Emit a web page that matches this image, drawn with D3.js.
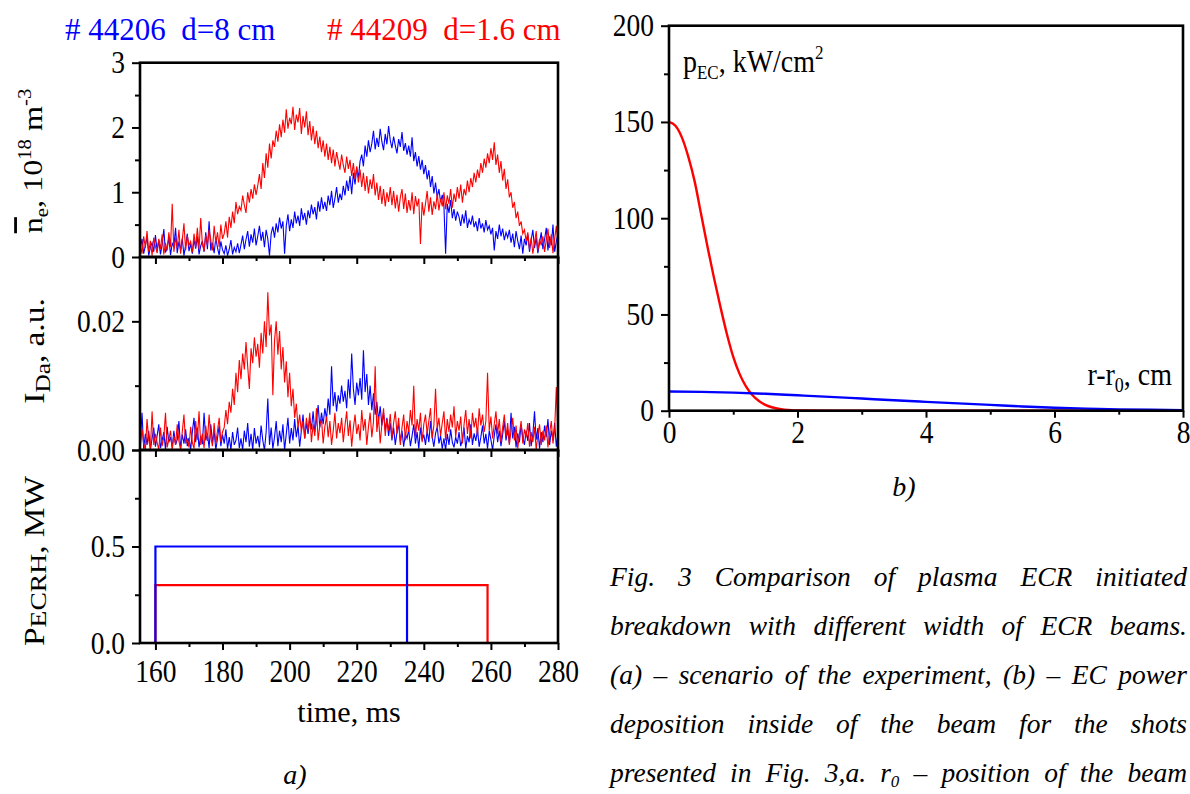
<!DOCTYPE html>
<html>
<head>
<meta charset="utf-8">
<title>Fig. 3</title>
<script src="https://cdnjs.cloudflare.com/ajax/libs/d3/7.8.5/d3.min.js"></script>
<style>
	body { margin: 0; background: #fff; }
</style>
</head>
<body>
<svg id="chart" width="1190" height="794" style="font-family: 'Liberation Serif', 'Times New Roman', Times, serif;"></svg>
<script>
// sampled traces: first sample and step, ms
var tStart = 155.5,
	tStep = 0.5;

// line-averaged density, 10^18 m^-3 (shot 44206 blue, 44209 red)
var neBlue = [
	0.12, 0.28, 0.05, 0.18, 0.31, 0.02, 0.15, 0.22, 0.08, 0.34,
	0.10, 0.26, 0.04, 0.19, 0.43, 0.07, 0.14, 0.30, 0.03, 0.21,
	0.16, 0.45, 0.06, 0.24, 0.11, 0.29, 0.02, 0.18, 0.36, 0.09,
	0.20, 0.05, 0.27, 0.13, 0.32, 0.04, 0.17, 0.25, 0.08, 0.38,
	0.12, 0.55, 0.10, 0.22, 0.06, 0.30, 0.14, 0.03, 0.24, 0.11,
	0.05, 0.18, 0.02, 0.12, 0.26, 0.04, 0.15, 0.08, 0.21, 0.06,
	0.19, 0.33, 0.12, 0.27, 0.40, 0.16, 0.35, 0.22, 0.44, 0.18,
	0.32, 0.48, 0.25, 0.39, 0.15, 0.42, 0.28, 0.02, 0.36, 0.47,
	0.30, 0.52, 0.38, 0.61, 0.44, 0.55, 0.05, 0.48, 0.66, 0.40,
	0.58, 0.45, 0.70, 0.52, 0.64, 0.48, 0.75, 0.57, 0.68, 0.50,
	0.72, 0.60, 0.81, 0.66, 0.77, 0.58, 0.86, 0.70, 0.92, 0.74,
	0.85, 0.71, 0.95, 0.80, 1.02, 0.76, 0.90, 1.08, 0.84, 0.98,
	0.88, 1.10, 0.95, 1.18, 1.02, 1.25, 0.97, 1.30, 1.12, 1.38,
	1.22, 1.48, 1.58, 1.40, 1.72, 1.55, 1.80, 1.62, 1.75, 1.95,
	1.66, 1.84, 1.70, 1.98, 1.78, 1.65, 1.90, 1.74, 2.02, 1.80,
	1.68, 1.86, 1.72, 1.60, 1.82, 1.70, 1.93, 1.64, 1.76, 1.58,
	1.72, 1.55, 1.85, 1.48, 1.62, 1.40, 1.56, 1.35, 1.50, 1.28,
	1.42, 1.20, 1.34, 1.08, 1.25, 0.98, 1.15, 0.92, 1.05, 0.85,
	0.96, 0.78, 0.05, 0.82, 0.68, 0.88, 0.60, 0.74, 0.56, 0.70,
	0.62, 0.48, 0.66, 0.52, 0.72, 0.45, 0.58, 0.50, 0.64, 0.46,
	0.55, 0.40, 0.60, 0.44, 0.52, 0.38, 0.57, 0.42, 0.48, 0.35,
	0.45, 0.10, 0.40, 0.28, 0.50, 0.32, 0.44, 0.26, 0.38, 0.30,
	0.42, 0.22, 0.36, 0.15, 0.40, 0.25, 0.12, 0.33, 0.05, 0.28,
	0.18, 0.35, 0.08, 0.26, 0.42, 0.14, 0.30, 0.06, 0.22, 0.38,
	0.12, 0.27, 0.45, 0.10, 0.32, 0.18, 0.50, 0.08, 0.24, 0.36
];
var neRed = [
	0.20, 0.05, 0.32, 0.14, 0.40, 0.08, 0.25, 0.02, 0.30, 0.16,
	0.06, 0.28, 0.12, 0.35, 0.04, 0.22, 0.10, 0.38, 0.15, 0.82,
	0.08, 0.30, 0.14, 0.42, 0.05, 0.26, 0.52, 0.10, 0.33, 0.18,
	0.24, 0.07, 0.36, 0.15, 0.45, 0.12, 0.60, 0.20, 0.09, 0.34,
	0.18, 0.42, 0.26, 0.10, 0.48, 0.22, 0.38, 0.15, 0.50, 0.28,
	0.36, 0.55, 0.30, 0.62, 0.45, 0.70, 0.52, 0.85, 0.66, 0.78,
	0.72, 0.95, 0.80, 0.68, 1.00, 0.84, 1.05, 0.90, 1.12, 0.96,
	1.10, 1.28, 1.05, 1.45, 1.22, 1.60, 1.38, 1.75, 1.52, 1.80,
	1.70, 1.95, 1.78, 2.05, 1.85, 2.12, 1.92, 2.28, 1.98, 2.15,
	2.05, 2.32, 1.96, 2.20, 2.08, 2.30, 1.90, 2.18, 2.00, 2.25,
	1.88, 2.10, 1.80, 2.02, 1.74, 1.95, 1.68, 1.86, 1.62, 1.80,
	1.55, 1.75, 1.50, 1.70, 1.45, 1.66, 1.40, 1.62, 1.48, 1.35,
	1.58, 1.42, 1.30, 1.55, 1.36, 1.50, 1.25, 1.45, 1.20, 1.40,
	1.15, 1.35, 1.08, 1.30, 1.02, 1.25, 0.98, 1.20, 1.05, 1.28,
	0.95, 1.15, 0.88, 1.10, 0.82, 1.05, 0.78, 1.00, 0.85, 1.08,
	0.80, 1.02, 0.75, 0.96, 0.70, 0.92, 1.05, 0.74, 0.98, 0.68,
	0.88, 0.72, 1.00, 0.66, 0.94, 0.78, 0.90, 0.20, 0.85, 0.64,
	0.82, 1.02, 0.70, 0.92, 0.65, 0.86, 0.74, 0.98, 0.72, 0.90,
	0.78, 1.00, 0.74, 0.95, 0.82, 1.05, 0.76, 0.98, 0.85, 1.08,
	0.90, 1.12, 0.84, 1.05, 0.95, 1.18, 1.00, 1.22, 1.08, 1.30,
	1.15, 1.35, 1.22, 1.45, 1.30, 1.52, 1.38, 1.60, 1.45, 1.68,
	1.50, 1.77, 1.42, 1.58, 1.30, 1.48, 1.18, 1.36, 1.05, 1.20,
	0.92, 1.00, 0.76, 0.85, 0.60, 0.70, 0.48, 0.55, 0.36, 0.42,
	0.25, 0.38, 0.12, 0.30, 0.05, 0.22, 0.40, 0.10, 0.28, 0.18,
	0.32, 0.08, 0.26, 0.44, 0.14, 0.35, 0.06, 0.28, 0.48, 0.20
];

// D-alpha intensity, a.u.
var daBlue = [
	0.0010, 0.0058, 0.0002, 0.0025, 0.0008, 0.0030, 0.0000, 0.0018, 0.0035, 0.0005,
	0.0022, 0.0040, 0.0003, 0.0015, 0.0028, 0.0000, 0.0036, 0.0012, 0.0020, 0.0004,
	0.0030, 0.0008, 0.0016, 0.0045, 0.0002, 0.0024, 0.0010, 0.0032, 0.0006, 0.0019,
	0.0000, 0.0028, 0.0050, 0.0012, 0.0035, 0.0004, 0.0022, 0.0009, 0.0058, 0.0015,
	0.0026, 0.0003, 0.0040, 0.0011, 0.0030, 0.0000, 0.0018, 0.0038, 0.0006, 0.0024,
	0.0010, 0.0032, 0.0002, 0.0020, 0.0000, 0.0028, 0.0008, 0.0015, 0.0035, 0.0003,
	0.0018, 0.0000, 0.0030, 0.0012, 0.0042, 0.0005, 0.0025, 0.0000, 0.0034, 0.0010,
	0.0022, 0.0004, 0.0038, 0.0015, 0.0000, 0.0028, 0.0080, 0.0008, 0.0035, 0.0002,
	0.0020, 0.0045, 0.0006, 0.0030, 0.0012, 0.0040, 0.0000, 0.0025, 0.0050, 0.0010,
	0.0034, 0.0015, 0.0048, 0.0020, 0.0038, 0.0005, 0.0030, 0.0055, 0.0018, 0.0042,
	0.0025, 0.0050, 0.0032, 0.0060, 0.0028, 0.0045, 0.0070, 0.0035, 0.0058, 0.0040,
	0.0065, 0.0048, 0.0080, 0.0055, 0.0130, 0.0068, 0.0090, 0.0060, 0.0085, 0.0072,
	0.0100, 0.0075, 0.0092, 0.0065, 0.0110, 0.0080, 0.0150, 0.0095, 0.0070, 0.0105,
	0.0085, 0.0112, 0.0078, 0.0155, 0.0090, 0.0118, 0.0070, 0.0100, 0.0062, 0.0088,
	0.0055, 0.0075, 0.0045, 0.0068, 0.0038, 0.0058, 0.0030, 0.0050, 0.0022, 0.0042,
	0.0015, 0.0035, 0.0008, 0.0028, 0.0040, 0.0012, 0.0030, 0.0005, 0.0025, 0.0018,
	0.0032, 0.0006, 0.0022, 0.0040, 0.0010, 0.0028, 0.0002, 0.0035, 0.0015, 0.0024,
	0.0008, 0.0030, 0.0012, 0.0045, 0.0020, 0.0005, 0.0026, 0.0036, 0.0010, 0.0022,
	0.0002, 0.0018, 0.0000, 0.0025, 0.0008, 0.0032, 0.0012, 0.0004, 0.0020, 0.0010,
	0.0028, 0.0006, 0.0016, 0.0035, 0.0002, 0.0022, 0.0012, 0.0040, 0.0008, 0.0026,
	0.0014, 0.0032, 0.0005, 0.0020, 0.0038, 0.0010, 0.0025, 0.0002, 0.0030, 0.0016,
	0.0000, 0.0022, 0.0040, 0.0012, 0.0030, 0.0006, 0.0024, 0.0045, 0.0015, 0.0032,
	0.0010, 0.0058, 0.0018, 0.0036, 0.0004, 0.0026, 0.0012, 0.0040, 0.0020, 0.0008,
	0.0030, 0.0014, 0.0042, 0.0006, 0.0024, 0.0060, 0.0016, 0.0034, 0.0002, 0.0028,
	0.0012, 0.0038, 0.0020, 0.0048, 0.0008, 0.0030, 0.0015, 0.0042, 0.0005, 0.0025
];
var daRed = [
	0.0005, 0.0032, 0.0010, 0.0000, 0.0048, 0.0015, 0.0002, 0.0060, 0.0008, 0.0025,
	0.0012, 0.0000, 0.0035, 0.0006, 0.0020, 0.0058, 0.0004, 0.0016, 0.0030, 0.0001,
	0.0022, 0.0008, 0.0040, 0.0014, 0.0000, 0.0028, 0.0055, 0.0010, 0.0018, 0.0004,
	0.0036, 0.0012, 0.0002, 0.0045, 0.0016, 0.0060, 0.0008, 0.0025, 0.0003, 0.0038,
	0.0014, 0.0055, 0.0020, 0.0006, 0.0042, 0.0010, 0.0030, 0.0050, 0.0012, 0.0028,
	0.0035, 0.0062, 0.0040, 0.0075, 0.0058, 0.0095, 0.0070, 0.0120, 0.0090, 0.0140,
	0.0110, 0.0150, 0.0125, 0.0168, 0.0130, 0.0095, 0.0158, 0.0135, 0.0175, 0.0145,
	0.0165, 0.0128, 0.0182, 0.0150, 0.0200, 0.0160, 0.0245, 0.0178, 0.0195, 0.0085,
	0.0170, 0.0200, 0.0148, 0.0185, 0.0125, 0.0160, 0.0105, 0.0138, 0.0082, 0.0120,
	0.0068, 0.0095, 0.0050, 0.0072, 0.0035, 0.0055, 0.0028, 0.0045, 0.0018, 0.0050,
	0.0030, 0.0058, 0.0012, 0.0040, 0.0022, 0.0065, 0.0015, 0.0038, 0.0048, 0.0010,
	0.0036, 0.0052, 0.0020, 0.0045, 0.0008, 0.0030, 0.0058, 0.0018, 0.0042, 0.0026,
	0.0050, 0.0012, 0.0038, 0.0060, 0.0022, 0.0046, 0.0005, 0.0034, 0.0055, 0.0025,
	0.0040, 0.0015, 0.0062, 0.0030, 0.0048, 0.0008, 0.0036, 0.0058, 0.0020, 0.0044,
	0.0130, 0.0028, 0.0052, 0.0010, 0.0040, 0.0065, 0.0022, 0.0048, 0.0030, 0.0056,
	0.0018, 0.0042, 0.0060, 0.0025, 0.0050, 0.0008, 0.0035, 0.0055, 0.0015, 0.0045,
	0.0028, 0.0062, 0.0038, 0.0100, 0.0020, 0.0048, 0.0030, 0.0058, 0.0012, 0.0040,
	0.0055, 0.0025, 0.0045, 0.0065, 0.0018, 0.0038, 0.0095, 0.0032, 0.0050, 0.0022,
	0.0042, 0.0060, 0.0015, 0.0048, 0.0028, 0.0055, 0.0035, 0.0068, 0.0020, 0.0045,
	0.0030, 0.0052, 0.0010, 0.0040, 0.0062, 0.0025, 0.0048, 0.0018, 0.0058, 0.0035,
	0.0050, 0.0022, 0.0065, 0.0038, 0.0055, 0.0028, 0.0045, 0.0120, 0.0030, 0.0052,
	0.0018, 0.0040, 0.0060, 0.0025, 0.0048, 0.0012, 0.0035, 0.0055, 0.0020, 0.0042,
	0.0008, 0.0030, 0.0050, 0.0015, 0.0038, 0.0002, 0.0025, 0.0045, 0.0010, 0.0032,
	0.0020, 0.0042, 0.0005, 0.0028, 0.0012, 0.0036, 0.0000, 0.0024, 0.0040, 0.0008,
	0.0030, 0.0015, 0.0038, 0.0004, 0.0026, 0.0045, 0.0010, 0.0032, 0.0098, 0.0018
];

// ECRH pulses: times (ms) and power (MW)
var pulseTimeBlue = [160, 160, 235, 235],
	pulsePowBlue = [0, 0.5, 0.5, 0];
var pulseTimeRed = [160, 160, 259, 259],
	pulsePowRed = [0, 0.3, 0.3, 0];

// EC power deposition across the beam, r - r0 in cm, kW/cm^2
var rRed = [0, 0.1, 0.2, 0.3, 0.4, 0.5, 0.6, 0.7, 0.8, 0.9, 1.0, 1.1, 1.2, 1.3, 1.4, 1.5, 1.6, 1.7, 1.8, 1.9, 2.0, 3, 4, 5, 6, 7, 8],
	pecRed = [150, 148, 142, 132, 119, 102, 85, 69, 54, 40, 28, 19, 12.5, 8, 5, 3, 1.8, 1, 0.5, 0.2, 0.1, 0, 0, 0, 0, 0, 0];
var rBlue = [0, 0.5, 1, 1.5, 2, 2.5, 3, 3.5, 4, 4.5, 5, 5.5, 6, 6.5, 7, 7.5, 8],
	pecBlue = [10, 9.8, 9.4, 8.8, 8, 7.2, 6.3, 5.4, 4.6, 3.8, 3, 2.2, 1.5, 1.1, 0.7, 0.5, 0.3];

// tick values
var timeMajor = [160, 180, 200, 220, 240, 260, 280],
	timeMinor = [170, 190, 210, 230, 250, 270],
	neMajor = [0, 1, 2, 3], neMinor = [0.5, 1.5, 2.5],
	daMajor = [0, 0.02], daMinor = [0.01],
	pwMajor = [0, 0.5, 1], pwMinor = [0.25, 0.75],
	rMajor = [0, 2, 4, 6, 8], rMinor = [1, 3, 5, 7],
	pecMajor = [0, 50, 100, 150, 200], pecMinor = [25, 75, 125, 175];

// caption text, "_" marks a subscript
var captionLines = [
	"Fig. 3 Comparison of plasma ECR initiated",
	"breakdown with different width of ECR beams.",
	"(a) \u2013 scenario of the experiment, (b) \u2013 EC power",
	"deposition inside of the beam for the shots",
	"presented in Fig. 3,a. r_0 \u2013 position of the beam"
];

var blue = "#0000ff", red = "#ff0000";
var serif = "'Liberation Serif', 'Times New Roman', Times, serif";
var tickFont = 27.5,
	stretch = 1.15;	// the printed figure is a bit taller than its fonts

var svg = d3.select("#chart");
var times = d3.range(neBlue.length).map(function(i) { return tStart + i * tStep; });

// left column: three stacked panels on one time axis
var x = d3.scaleLinear().domain([155.4, 280]).range([140, 558]);
var yNe = d3.scaleLinear().domain([0, 3]).range([257, 62.7]),
	yDa = d3.scaleLinear().domain([0, 0.03]).range([450, 257]),
	yPw = d3.scaleLinear().domain([0, 1]).range([643, 450]);

// right panel
var xr = d3.scaleLinear().domain([0, 8]).range([669, 1183]),
	yr = d3.scaleLinear().domain([0, 200]).range([410.7, 25.7]);

var styleTicks = function(g) {
	g.attr("font-family", null).style("font-family", serif);
	g.select(".domain").remove();
	g.selectAll(".tick line").attr("stroke", "#000").attr("stroke-width", 2);
	g.selectAll(".tick text").attr("font-size", tickFont).style("font-family", serif).style("fill", "#000");
	return g;
};

var leftAxis = function(scale, major, minor, fmt, xPos, showLabel) {
	var g = svg.append("g").attr("transform", "translate(" + xPos + ",0)");
	styleTicks(g.append("g").call(d3.axisLeft(scale).tickValues(minor).tickSize(5).tickFormat("")));
	var gm = styleTicks(g.append("g").call(d3.axisLeft(scale).tickValues(major).tickSize(8).tickPadding(7).tickFormat(function(d) {
		return showLabel(d) ? fmt(d) : "";
	})));
	gm.selectAll(".tick text")
		.attr("dy", null)
		.attr("transform", "translate(0,10) scale(1," + stretch + ")");
};

var bottomAxis = function(scale, major, minor, fmt, yPos, labelOffset) {
	var g = svg.append("g").attr("transform", "translate(0," + yPos + ")");
	styleTicks(g.append("g").call(d3.axisBottom(scale).tickValues(minor).tickSize(4).tickFormat("")));
	var gm = styleTicks(g.append("g").call(d3.axisBottom(scale).tickValues(major).tickSize(7).tickFormat(fmt)));
	gm.selectAll(".tick text")
		.attr("y", 0).attr("dy", null)
		.attr("transform", "translate(0," + labelOffset + ") scale(1," + stretch + ")");
};

var noLabel = function() { return ""; };
var always = function() { return true; };

// --- left column -----------------------------------------------------------
var panels = [yNe, yDa, yPw];
panels.forEach(function(y, i) {
	bottomAxis(x, timeMajor, timeMinor, i == 2 ? d3.format("d") : noLabel, y.range()[0], 38.7);
});
leftAxis(yNe, neMajor, neMinor, d3.format("d"), 140, always);
leftAxis(yDa, daMajor, daMinor, d3.format(".2f"), 140, always);
leftAxis(yPw, pwMajor, pwMinor, d3.format(".1f"), 140, function(d) { return d < 1; });

var traceLine = function(y) {
	return d3.line()
		.x(function(d) { return x(d[0]); })
		.y(function(d) { return y(d[1]); });
};
var zipped = function(xs, ys) { return d3.zip(xs, ys); };

var traces = svg.append("g");
traces.append("path").attr("d", traceLine(yNe)(zipped(times, neBlue)))
	.attr("fill", "none").attr("stroke", blue).attr("stroke-width", 1.1);
traces.append("path").attr("d", traceLine(yNe)(zipped(times, neRed)))
	.attr("fill", "none").attr("stroke", red).attr("stroke-width", 1.1);
traces.append("path").attr("d", traceLine(yDa)(zipped(times, daBlue)))
	.attr("fill", "none").attr("stroke", blue).attr("stroke-width", 1.1);
traces.append("path").attr("d", traceLine(yDa)(zipped(times, daRed)))
	.attr("fill", "none").attr("stroke", red).attr("stroke-width", 1.1);
traces.append("path").attr("d", traceLine(yPw)(zipped(pulseTimeRed, pulsePowRed)))
	.attr("fill", "none").attr("stroke", red).attr("stroke-width", 2.2);
traces.append("path").attr("d", traceLine(yPw)(zipped(pulseTimeBlue, pulsePowBlue)))
	.attr("fill", "none").attr("stroke", blue).attr("stroke-width", 2.2);

// panel frames on top of the traces
panels.forEach(function(y) {
	svg.append("rect")
		.attr("x", x.range()[0]).attr("y", y.range()[1])
		.attr("width", x.range()[1] - x.range()[0])
		.attr("height", y.range()[0] - y.range()[1])
		.attr("fill", "none").attr("stroke", "#000").attr("stroke-width", 2.6);
});

// --- right panel -------------------------------------------------------------
bottomAxis(xr, rMajor, rMinor, d3.format("d"), 410.7, 32.5);
leftAxis(yr, pecMajor, pecMinor, d3.format("d"), 669, always);

var profileLine = d3.line()
	.x(function(d) { return xr(d[0]); })
	.y(function(d) { return yr(d[1]); })
	.curve(d3.curveMonotoneX);
svg.append("path").attr("d", profileLine(zipped(rRed, pecRed)))
	.attr("fill", "none").attr("stroke", red).attr("stroke-width", 2.4);
svg.append("path").attr("d", profileLine(zipped(rBlue, pecBlue)))
	.attr("fill", "none").attr("stroke", blue).attr("stroke-width", 2.4);
svg.append("rect")
	.attr("x", 669).attr("y", 25.7).attr("width", 1183 - 669).attr("height", 410.7 - 25.7)
	.attr("fill", "none").attr("stroke", "#000").attr("stroke-width", 2.6);

// --- texts ---------------------------------------------------------------
var text = function() {
	return svg.append("text").style("font-family", serif).style("fill", "#000");
};
// text with the figure's vertical stretch
var label = function(xPos, yPos, size, anchor, rotate) {
	var tr = "translate(" + xPos + "," + yPos + ") scale(1," + stretch + ")" + (rotate ? " rotate(-90)" : "");
	return text()
		.attr("transform", tr)
		.attr("font-size", size)
		.attr("text-anchor", anchor || "start");
};
var part = function(t, str, size, dy) {
	var s = t.append("tspan").text(str);
	if (size) s.attr("font-size", size);
	if (dy) s.attr("dy", dy);
	return s;
};

// shot legend
text().attr("x", 65).attr("y", 40).attr("font-size", 31)
	.style("fill", blue).style("white-space", "pre")
	.text("# 44206  d=8 cm");
text().attr("x", 327).attr("y", 40).attr("font-size", 31)
	.style("fill", red).style("white-space", "pre")
	.text("# 44209  d=1.6 cm");

// y titles of the left column
var t = label(42, 161, 28, "middle", true);
part(t, "n").style("text-decoration", "overline");
part(t, "e", 18, 6);
part(t, ", 10", null, -6);
part(t, "18", 18, -11);
part(t, " m", null, 11);
part(t, "-3", 18, -11);

t = label(44, 351, 29, "middle", true);
part(t, "I");
part(t, "Da", 22, 6);
part(t, ", a.u.", null, -6);

t = label(44, 561, 29, "middle", true);
part(t, "P");
part(t, "ECRH", 24, 2);
part(t, ", MW", null, -2);

text().attr("x", 349).attr("y", 722).attr("font-size", 30)
	.attr("text-anchor", "middle").text("time, ms");
text().attr("x", 295).attr("y", 784).attr("font-size", 28)
	.attr("text-anchor", "middle").style("font-style", "italic").text("a)");

// right panel labels
t = label(683, 71.7, 28, "start");
part(t, "p");
part(t, "EC", 17, 6);
part(t, ", kW/cm", null, -6);
part(t, "2", 17, -11);

t = label(1172, 385, 28, "end");
part(t, "r-r");
part(t, "0", 18, 6);
part(t, ", cm", null, -6);

text().attr("x", 904).attr("y", 496).attr("font-size", 28)
	.attr("text-anchor", "middle").style("font-style", "italic").text("b)");

// caption, justified between two margins
var capLeft = 610, capRight = 1187, capTop = 586, capStep = 49;
captionLines.forEach(function(line, li) {
	var words = line.split(" ");
	var nodes = words.map(function(w) {
		var txt = text()
			.attr("font-size", 27.5)
			.style("font-style", "italic");
		var bits = w.split("_");
		part(txt, bits[0]);
		if (bits.length > 1) part(txt, bits[1], 17, 5);
		return txt;
	});
	var widths = nodes.map(function(n) { return n.node().getComputedTextLength(); });
	var gap = Math.max(5, (capRight - capLeft - d3.sum(widths)) / (words.length - 1));
	var cx = capLeft;
	nodes.forEach(function(n, i) {
		n.attr("transform", "translate(" + cx + "," + (capTop + li * capStep) + ")");
		cx += widths[i] + gap;
	});
});
</script>
</body>
</html>
